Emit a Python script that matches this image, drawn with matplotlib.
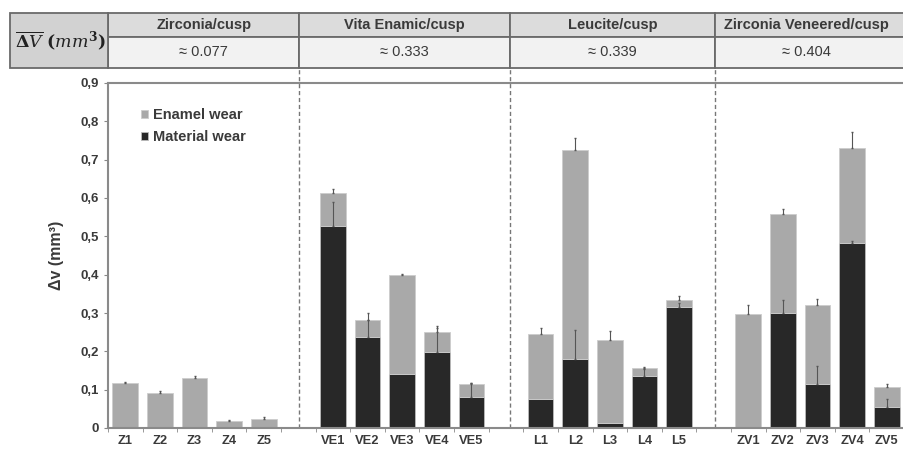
import numpy as np
import matplotlib
matplotlib.use("Agg")
import matplotlib.pyplot as plt
import matplotlib.transforms as mtransforms
from matplotlib.patches import Rectangle

plt.rcParams['font.family'] = ['Liberation Sans', 'DejaVu Sans']
plt.rcParams['mathtext.fontset'] = 'dejavuserif'

# data
groups = ["Zirconia/cusp", "Vita Enamic/cusp", "Leucite/cusp", "Zirconia Veneered/cusp"]
group_means = ["≈ 0.077", "≈ 0.333", "≈ 0.339", "≈ 0.404"]
samples = [["Z1", "Z2", "Z3", "Z4", "Z5"],
           ["VE1", "VE2", "VE3", "VE4", "VE5"],
           ["L1", "L2", "L3", "L4", "L5"],
           ["ZV1", "ZV2", "ZV3", "ZV4", "ZV5"]]
material_wear = [[0, 0, 0, 0, 0],
                 [0.527, 0.237, 0.141, 0.197, 0.082],
                 [0.075, 0.181, 0.014, 0.136, 0.315],
                 [0.002, 0.299, 0.116, 0.482, 0.056]]
enamel_wear = [[0.117, 0.092, 0.130, 0.019, 0.023],
               [0.087, 0.045, 0.257, 0.053, 0.032],
               [0.170, 0.544, 0.216, 0.021, 0.019],
               [0.295, 0.258, 0.204, 0.249, 0.050]]
material_err = [[0, 0, 0, 0, 0],
                [0.063, 0.063, 0.0, 0.069, 0.035],
                [0.003, 0.075, 0.002, 0.019, 0.010],
                [0.003, 0.035, 0.047, 0.005, 0.019]]
total_err = [[0.004, 0.005, 0.005, 0.003, 0.006],
             [0.010, 0.0, 0.003, 0.010, 0.003],
             [0.015, 0.031, 0.024, 0.003, 0.010],
             [0.023, 0.014, 0.016, 0.042, 0.009]]
# dashed separators sit roughly in the empty slot between groups
separators = [5.03, 11.11, 17.05]

light = "#a9a9a9"
dark = "#282828"
txt = "#3a3a3a"

fig = plt.figure(figsize=(9.04, 4.5), dpi=100)
ax = fig.add_axes([108 / 904, 1 - 428 / 450, 1 - 108 / 904, 345 / 450])

# positions: 5 bars per group, one empty slot between groups
pos, labels, mat, ena, merr, terr = [], [], [], [], [], []
for g in range(len(groups)):
    for i in range(5):
        pos.append(g * 6 + i)
        labels.append(samples[g][i])
        mat.append(material_wear[g][i])
        ena.append(enamel_wear[g][i])
        merr.append(material_err[g][i])
        terr.append(total_err[g][i])
pos = np.array(pos)
mat = np.array(mat)
ena = np.array(ena)
tot = mat + ena

w = 0.74
ax.bar(pos, mat, w, color=dark, edgecolor="#bbbbbb", linewidth=0.6, label="Material wear", zorder=2)
ax.bar(pos, ena, w, bottom=mat, color=light, edgecolor="#cccccc", linewidth=0.6, label="Enamel wear", zorder=2)

zero = np.zeros(len(pos))
ax.errorbar(pos, tot, yerr=[zero, terr], fmt="none", ecolor="#555555", elinewidth=0.8, capsize=1, zorder=3)
mpos = np.array(merr) > 0.004
ax.errorbar(pos[mpos], mat[mpos], yerr=[zero[mpos], np.array(merr)[mpos]], fmt="none",
            ecolor="#555555", elinewidth=0.8, capsize=1, zorder=3)

ax.set_xlim(-0.5, 22.33)
ax.set_ylim(0, 0.9)

for s in separators:
    ax.axvline(s, ymin=0, ymax=1.043, color="#777777", lw=1, ls=(0, (3, 2)), clip_on=False, zorder=1)

yt = np.arange(0, 0.91, 0.1)
ax.set_yticks(yt)
ax.set_yticklabels(["0"] + [("%.1f" % v).replace(".", ",") for v in yt[1:]])
ax.set_xticks(pos)
ax.set_xticklabels(labels)
ax.set_xticks(np.arange(-0.5, 23, 1), minor=True)
ax.tick_params(axis="x", which="major", length=0, labelsize=9.3, labelcolor=txt, pad=5)
ax.tick_params(axis="x", which="minor", length=3, color="#888888")
ax.tick_params(axis="y", length=3, color="#888888", labelsize=9.5, labelcolor=txt)
for t in ax.get_xticklabels() + ax.get_yticklabels():
    t.set_fontweight("bold")

for s in ["left", "bottom", "top"]:
    ax.spines[s].set_color("#8a8a8a")
    ax.spines[s].set_linewidth(1.5)
ax.spines["right"].set_visible(False)

ax.set_ylabel("Δv (mm³)", fontsize=11.5, fontweight="bold", color=txt, labelpad=12)

h, l = ax.get_legend_handles_labels()
leg = ax.legend(h[::-1], l[::-1], loc="upper left", bbox_to_anchor=(0.025, 0.965), frameon=False,
                handlelength=0.5, handleheight=0.5, handletextpad=0.3, labelspacing=0.55,
                prop={"weight": "bold", "size": 10.5})
for t in leg.get_texts():
    t.set_color(txt)

# table above the plot: x in data units, y in figure units
trans = mtransforms.blended_transform_factory(ax.transData, fig.transFigure)
y_top = 1 - 13 / 450
y_mid = 1 - 37 / 450
y_bot = 1 - 68 / 450
edges = [-0.5] + separators + [23.5]
for g in range(len(groups)):
    x0, x1 = edges[g], edges[g + 1]
    fig.patches.append(Rectangle((x0, y_mid), x1 - x0, y_top - y_mid, transform=trans,
                                 facecolor="#dcdcdc", edgecolor="#6a6a6a", lw=1.3))
    fig.patches.append(Rectangle((x0, y_bot), x1 - x0, y_mid - y_bot, transform=trans,
                                 facecolor="#f2f2f2", edgecolor="#6a6a6a", lw=1.3))
    xc = (x0 + min(x1, 22.33)) / 2 if g == len(groups) - 1 else (x0 + x1) / 2
    fig.text(xc, (y_top + y_mid) / 2, groups[g], transform=trans, ha="center", va="center",
             fontsize=10.5, fontweight="bold", color=txt)
    fig.text(xc, (y_mid + y_bot) / 2, group_means[g], transform=trans, ha="center", va="center",
             fontsize=10.5, color=txt)

fig.patches.append(Rectangle((10 / 904, y_bot), 98 / 904, y_top - y_bot, transform=fig.transFigure,
                             facecolor="#d2d2d2", edgecolor="#6a6a6a", lw=1.3))
fig.text(60 / 904, (y_top + y_bot) / 2, r"$\mathbf{\overline{\Delta \mathit{V}}}\ \mathbf{(\mathit{mm}^3)}$",
         ha="center", va="center", fontsize=12.5, color="#222222")

fig.savefig("out.png", dpi=100)
